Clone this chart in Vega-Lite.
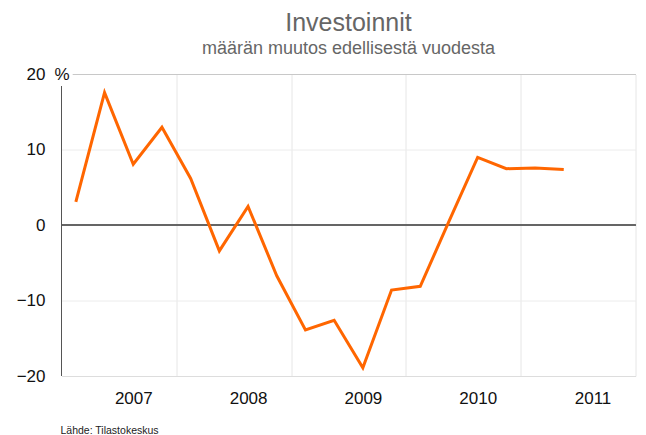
{
  "$schema": "https://vega.github.io/schema/vega-lite/v6.json",
  "autosize": "none",
  "width": 574,
  "height": 301.5,
  "padding": {"left": 61.5, "top": 74.5, "right": 10.5, "bottom": 59},
  "background": "white",
  "title": {
    "text": "Investoinnit",
    "subtitle": "määrän muutos edellisestä vuodesta",
    "font": "Liberation Sans",
    "fontSize": 25,
    "fontWeight": "normal",
    "color": "#666666",
    "subtitleFont": "Liberation Sans",
    "subtitleFontSize": 18,
    "subtitleColor": "#666666",
    "subtitlePadding": 3.5,
    "anchor": "middle",
    "offset": 8
  },
  "data": {
    "values": [
      {"period": "2007Q1", "t": 2007.125, "value": 3.1},
      {"period": "2007Q2", "t": 2007.375, "value": 17.6},
      {"period": "2007Q3", "t": 2007.625, "value": 8.1},
      {"period": "2007Q4", "t": 2007.875, "value": 13.0},
      {"period": "2008Q1", "t": 2008.125, "value": 6.2},
      {"period": "2008Q2", "t": 2008.375, "value": -3.4},
      {"period": "2008Q3", "t": 2008.625, "value": 2.5},
      {"period": "2008Q4", "t": 2008.875, "value": -6.7},
      {"period": "2009Q1", "t": 2009.125, "value": -13.9},
      {"period": "2009Q2", "t": 2009.375, "value": -12.6},
      {"period": "2009Q3", "t": 2009.625, "value": -18.9},
      {"period": "2009Q4", "t": 2009.875, "value": -8.6},
      {"period": "2010Q1", "t": 2010.125, "value": -8.1},
      {"period": "2010Q2", "t": 2010.375, "value": 0.5},
      {"period": "2010Q3", "t": 2010.625, "value": 9.0},
      {"period": "2010Q4", "t": 2010.875, "value": 7.5},
      {"period": "2011Q1", "t": 2011.125, "value": 7.6},
      {"period": "2011Q2", "t": 2011.375, "value": 7.4}
    ]
  },
  "layer": [
    {
      "mark": {"type": "rule", "color": "#666666", "strokeWidth": 1},
      "encoding": {"y": {"datum": 0, "type": "quantitative"}}
    },
    {
      "mark": {"type": "rule", "color": "#c8c8c8", "strokeWidth": 1},
      "encoding": {
        "y": {"datum": 20, "type": "quantitative"},
        "x": {"datum": 2007.1, "type": "quantitative"},
        "x2": {"datum": 2012}
      }
    },
    {
      "mark": {"type": "rule", "color": "#555555", "strokeWidth": 1},
      "encoding": {
        "x": {"datum": 2007, "type": "quantitative"},
        "y": {"datum": 18.4, "type": "quantitative"},
        "y2": {"datum": -20}
      }
    },
    {
      "mark": {"type": "line", "color": "#ff6600", "strokeWidth": 3},
      "encoding": {
        "x": {
          "field": "t",
          "type": "quantitative",
          "scale": {"domain": [2007, 2012], "nice": false, "zero": false},
          "axis": {
            "values": [2008, 2009, 2010, 2011, 2012],
            "labelExpr": "'' + (datum.value - 1)",
            "labelOffset": -43,
            "labelFlush": false,
            "labelOverlap": false,
            "labelFont": "Liberation Sans",
            "labelFontSize": 17,
            "labelColor": "#111111",
            "labelPadding": 14,
            "ticks": false,
            "grid": true,
            "gridColor": "#e6e6e6",
            "domain": true,
            "domainColor": "#dddddd",
            "title": "Lähde: Tilastokeskus",
            "titleFont": "Liberation Sans",
            "titleFontSize": 10.5,
            "titleFontWeight": "normal",
            "titleColor": "#222222",
            "titleAnchor": "start",
            "titleAlign": "left",
            "titleBaseline": "alphabetic",
            "titleX": -1.5,
            "titleY": 57.5
          }
        },
        "y": {
          "field": "value",
          "type": "quantitative",
          "scale": {"domain": [-20, 20], "nice": false},
          "axis": {
            "values": [-20, -10, 0, 10, 20],
            "labelFont": "Liberation Sans",
            "labelFontSize": 17,
            "labelColor": "#111111",
            "labelPadding": 16.5,
            "ticks": false,
            "domain": false,
            "grid": true,
            "gridColor": {
              "condition": {"test": "datum.value === 10 || datum.value === -10", "value": "#ececec"},
              "value": "transparent"
            },
            "title": "%",
            "titleFont": "Liberation Sans",
            "titleFontSize": 17,
            "titleFontWeight": "normal",
            "titleColor": "#111111",
            "titleAngle": 0,
            "titleAlign": "center",
            "titleBaseline": "middle",
            "titleX": 0,
            "titleY": 0
          }
        }
      }
    }
  ],
  "config": {
    "view": {"stroke": null},
    "font": "Liberation Sans"
  }
}
